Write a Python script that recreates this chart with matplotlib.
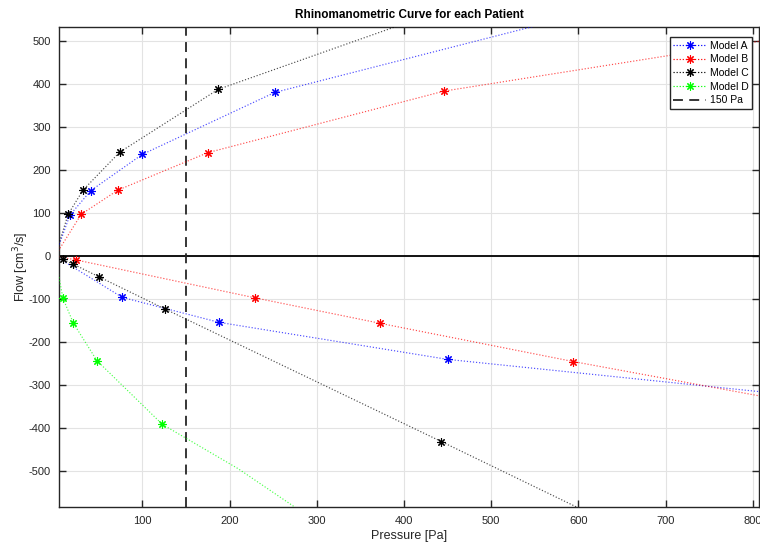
#!/usr/bin/env python3
"""Plot rhinomanometric flow/pressure curves for each patient model."""

import matplotlib

matplotlib.use("Agg")
import matplotlib.pyplot as plt
from matplotlib.lines import Line2D

plt.rcParams["font.family"] = ["Liberation Sans", "DejaVu Sans"]
plt.rcParams["axes.unicode_minus"] = False

# Measured points: inspiration (positive flow) and expiration (negative flow)
pressure_a_insp = [17, 41, 100, 252]
flow_a_insp = [95, 152, 236, 380]
pressure_a_exp = [77, 188, 450]
flow_a_exp = [-96, -154, -240]

pressure_b_insp = [30, 72, 175, 446]
flow_b_insp = [97, 153, 240, 383]
pressure_b_exp = [24, 229, 372, 594]
flow_b_exp = [-9, -97, -156, -245]

pressure_c_insp = [15, 32, 74, 187]
flow_c_insp = [97, 153, 241, 387]
pressure_c_exp = [9, 21, 50, 126, 443]
flow_c_exp = [-8, -19, -48, -123, -431]

pressure_d_exp = [9, 21, 48, 123]
flow_d_exp = [-98, -156, -243, -391]

# Fitted curve continuation past the last measured point
tail_a_insp_p, tail_a_insp_v = [548, 600], [533, 560]
tail_a_exp_p, tail_a_exp_v = [808, 830], [-315, -319]
tail_b_insp_p, tail_b_insp_v = [808, 830], [499, 506]
tail_b_exp_p, tail_b_exp_v = [808, 830], [-325, -333]
tail_c_insp_p, tail_c_insp_v = [391, 420], [533, 554]
tail_c_exp_p, tail_c_exp_v = [596, 610], [-581, -594]
tail_d_exp_p, tail_d_exp_v = [210, 285], [-494, -597]

MODELS = ["Model A", "Model B", "Model C", "Model D"]
COLORS = ["#0000ff", "#ff0000", "#000000", "#00ff00"]
THRESHOLD_PA = 150
AXIS_COLOR = "#262626"
STAR = (8, 2, 0)
DOTS = (0, (1, 1.6))
DASHES = (0, (5.5, 3.5))


def draw_branch(ax, pressure, flow, tail_p, tail_v, color):
    # curve starts at the origin, runs through the measurements, then the fit tail
    p = [0] + list(pressure) + list(tail_p)
    v = [0] + list(flow) + list(tail_v)
    ax.plot(p, v, linestyle=DOTS, linewidth=0.85, color=color, alpha=0.7, zorder=3)
    ax.plot(pressure, flow, linestyle="none", marker=STAR, markersize=6,
            markeredgewidth=0.8, color=color, zorder=4)


def main():
    fig = plt.figure(figsize=(7.6, 5.45), dpi=100)
    ax = fig.add_axes([59 / 760, 1 - 507.3 / 545, 700 / 760, (507.3 - 26.5) / 545])

    branches = [
        (pressure_a_insp, flow_a_insp, tail_a_insp_p, tail_a_insp_v, COLORS[0]),
        (pressure_a_exp, flow_a_exp, tail_a_exp_p, tail_a_exp_v, COLORS[0]),
        (pressure_b_insp, flow_b_insp, tail_b_insp_p, tail_b_insp_v, COLORS[1]),
        (pressure_b_exp, flow_b_exp, tail_b_exp_p, tail_b_exp_v, COLORS[1]),
        (pressure_c_insp, flow_c_insp, tail_c_insp_p, tail_c_insp_v, COLORS[2]),
        (pressure_c_exp, flow_c_exp, tail_c_exp_p, tail_c_exp_v, COLORS[2]),
        (pressure_d_exp, flow_d_exp, tail_d_exp_p, tail_d_exp_v, COLORS[3]),
    ]
    for branch in branches:
        draw_branch(ax, *branch)

    ax.axhline(0, color="black", linewidth=1.3, zorder=2)
    ax.axvline(THRESHOLD_PA, color=AXIS_COLOR, linewidth=1.3, linestyle=DASHES, zorder=2)

    ax.set_xlim(4.5, 807)
    ax.set_ylim(-583.5, 533)
    ax.set_xticks(range(100, 801, 100))
    ax.set_yticks(range(-500, 501, 100))
    ax.grid(True, color="#e3e3e3", linewidth=0.8)
    ax.set_axisbelow(True)
    ax.tick_params(direction="in", length=5, width=1.0, top=True, right=True,
                   colors=AXIS_COLOR, labelsize=8, pad=6)
    for spine in ax.spines.values():
        spine.set_color(AXIS_COLOR)
        spine.set_linewidth(1.0)

    ax.set_xlabel("Pressure [Pa]", fontsize=9, color=AXIS_COLOR, labelpad=3)
    ax.set_ylabel("Flow [cm$^3$/s]", fontsize=9, color=AXIS_COLOR, labelpad=-2)
    ax.set_title("Rhinomanometric Curve for each Patient", fontsize=8.5,
                 fontweight="bold", color="black", pad=6)

    handles = [
        Line2D([], [], color=c, linestyle=DOTS, linewidth=0.85, marker=STAR,
               markersize=6, markeredgewidth=0.8)
        for c in COLORS
    ]
    handles.append(Line2D([], [], color=AXIS_COLOR, linewidth=1.3, linestyle=DASHES))
    labels = MODELS + [f"{THRESHOLD_PA} Pa"]
    leg = ax.legend(handles, labels, loc="upper right", bbox_to_anchor=(0.99, 0.978),
                    fontsize=7.5, handlelength=3.2, handletextpad=0.3,
                    borderpad=0.35, labelspacing=0.35, fancybox=False,
                    framealpha=1.0, edgecolor=AXIS_COLOR, borderaxespad=0)
    leg.get_frame().set_linewidth(1.0)

    fig.savefig("out.png", dpi=100)
    plt.close(fig)


if __name__ == "__main__":
    main()
